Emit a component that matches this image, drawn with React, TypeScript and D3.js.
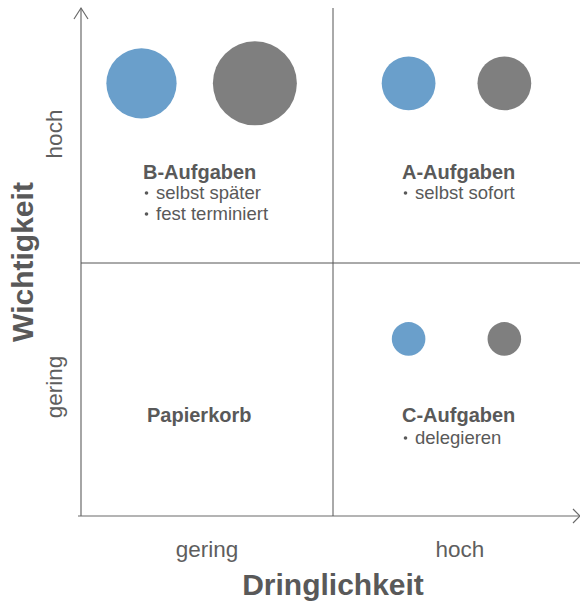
import React, { useEffect, useRef } from "react";
import * as d3 from "d3";

// Quadrants (urgency index, importance index) and their captions
const quadrantNames = ["B-Aufgaben", "A-Aufgaben", "Papierkorb", "C-Aufgaben"];
const quadrantCol = [0, 1, 0, 1];
const quadrantRow = [1, 1, 0, 0];
const quadrantBullets = [
  ["selbst später", "fest terminiert"],
  ["selbst sofort"],
  [],
  ["delegieren"],
];

// Bubbles: two series per quadrant (blue, gray), position in axis units, size value
const bubbleSeries = ["blue", "gray"];
const bubbleQuadrant = ["B", "B", "A", "A", "C", "C"];
const bubbleSeriesIdx = [0, 1, 0, 1, 0, 1];
const bubbleUrgency = [0.24, 0.69, 1.3, 1.68, 1.3, 1.68];
const bubbleImportance = [1.71, 1.71, 1.71, 1.71, 0.7, 0.7];
const bubbleSize = [70, 100, 41, 41, 16, 16];

const levelLabels = ["gering", "hoch"];
const xTitle = "Dringlichkeit";
const yTitle = "Wichtigkeit";

const W = 580;
const H = 602;
const COLORS = ["#6a9fcb", "#7f7f7f"];
const TEXT = "#595959";
const FONT = "'Liberation Sans', Arial, Helvetica, sans-serif";

const App = () => {
  const ref = useRef<SVGSVGElement>(null);

  useEffect(() => {
    if (!ref.current) return;
    const svg = d3.select(ref.current);
    svg.selectAll("*").remove();

    const x = d3.scaleLinear().domain([0, 2]).range([81, 585]);
    const y = d3.scaleLinear().domain([0, 2]).range([516, 10]);
    const r = d3.scaleSqrt().domain([0, 100]).range([0, 42]);

    const g = svg.append("g");

    // axes lines
    g.append("line")
      .attr("x1", x(0)).attr("x2", x(0))
      .attr("y1", y(0)).attr("y2", 8)
      .attr("stroke", "#6a6a6a").attr("stroke-width", 1.2);
    g.append("path")
      .attr("d", `M${x(0) - 7},19 L${x(0)},8 L${x(0) + 7},19`)
      .attr("fill", "none").attr("stroke", "#6a6a6a").attr("stroke-width", 1.2);
    g.append("line")
      .attr("x1", 78).attr("x2", 580)
      .attr("y1", y(0)).attr("y2", y(0))
      .attr("stroke", "#6a6a6a").attr("stroke-width", 1.2);
    g.append("path")
      .attr("d", `M${573},${y(0) - 7} L580,${y(0)} L${573},${y(0) + 7}`)
      .attr("fill", "none").attr("stroke", "#6a6a6a").attr("stroke-width", 1.2);

    // dividers
    g.append("line")
      .attr("x1", x(1)).attr("x2", x(1))
      .attr("y1", 8).attr("y2", y(0))
      .attr("stroke", "#555").attr("stroke-width", 1);
    g.append("line")
      .attr("x1", x(0)).attr("x2", W)
      .attr("y1", y(1)).attr("y2", y(1))
      .attr("stroke", "#555").attr("stroke-width", 1);

    // bubbles
    const bubbles = bubbleSize.map((v, i) => ({
      q: bubbleQuadrant[i],
      s: bubbleSeries[bubbleSeriesIdx[i]],
      c: COLORS[bubbleSeriesIdx[i]],
      ux: bubbleUrgency[i],
      uy: bubbleImportance[i],
      v,
    }));
    g.selectAll(".bubble")
      .data(bubbles)
      .enter()
      .append("circle")
      .attr("class", "bubble")
      .attr("cx", (d) => x(d.ux))
      .attr("cy", (d) => y(d.uy))
      .attr("r", (d) => r(d.v))
      .attr("fill", (d) => d.c);

    // quadrant captions
    const titleY = [179, 422];
    quadrantNames.forEach((name, i) => {
      const tx = quadrantCol[i] === 0 ? x(0) + 62 : x(1) + 69;
      const ty = titleY[1 - quadrantRow[i]];
      g.append("text")
        .attr("x", tx + (i === 2 ? 4 : 0))
        .attr("y", ty)
        .attr("font-family", FONT)
        .attr("font-size", 20)
        .attr("font-weight", "bold")
        .attr("fill", TEXT)
        .text(name);
      quadrantBullets[i].forEach((b, j) => {
        const by = ty + (i === 3 ? 22 : 20) + j * 21;
        g.append("circle")
          .attr("cx", tx + 3.5)
          .attr("cy", by - 6)
          .attr("r", 1.8)
          .attr("fill", TEXT);
        g.append("text")
          .attr("x", tx + 13)
          .attr("y", by)
          .attr("font-family", FONT)
          .attr("font-size", 18.5)
          .attr("fill", TEXT)
          .text(b);
      });
    });

    // level labels on x
    levelLabels.forEach((l, i) => {
      g.append("text")
        .attr("x", x(i + 0.5) + (i === 0 ? 0 : 1))
        .attr("y", 557)
        .attr("text-anchor", "middle")
        .attr("font-family", FONT)
        .attr("font-size", 22.5)
        .attr("fill", "#5e5e5e")
        .text(l);
    });
    // level labels on y (rotated)
    const yLabelPos = [387, 134];
    levelLabels.forEach((l, i) => {
      g.append("text")
        .attr("transform", `translate(62,${yLabelPos[i]}) rotate(-90)`)
        .attr("text-anchor", "middle")
        .attr("font-family", FONT)
        .attr("font-size", 22.5)
        .attr("fill", "#5e5e5e")
        .text(l);
    });

    // axis titles
    g.append("text")
      .attr("x", x(1))
      .attr("y", 595)
      .attr("text-anchor", "middle")
      .attr("font-family", FONT)
      .attr("font-size", 30)
      .attr("font-weight", "bold")
      .attr("fill", TEXT)
      .text(xTitle);
    g.append("text")
      .attr("transform", `translate(33,262) rotate(-90)`)
      .attr("text-anchor", "middle")
      .attr("font-family", FONT)
      .attr("font-size", 30)
      .attr("font-weight", "bold")
      .attr("fill", TEXT)
      .text(yTitle);
  }, []);

  return (
    <svg
      ref={ref}
      width={W}
      height={H}
      style={{ position: "absolute", left: 0, top: 0, background: "#fff" }}
    />
  );
};

export default App;
